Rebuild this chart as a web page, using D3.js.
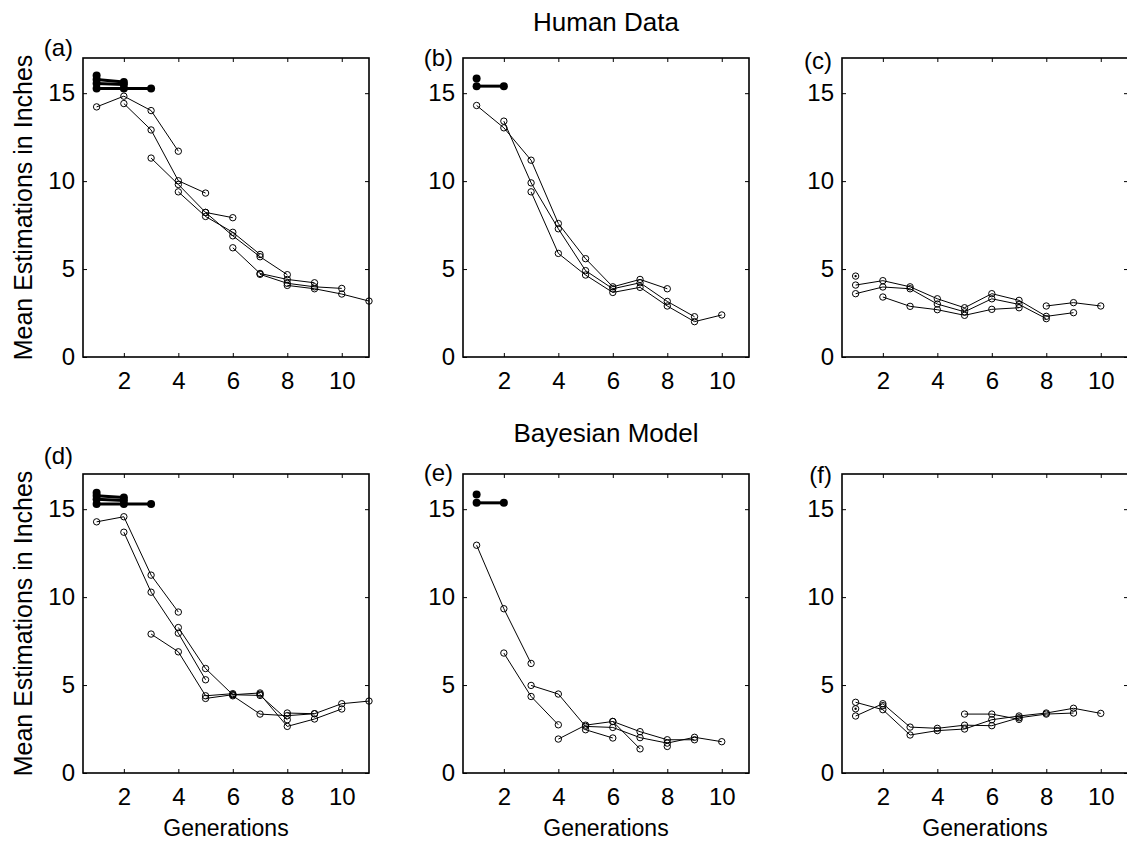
<!DOCTYPE html>
<html>
<head>
<meta charset="utf-8">
<script src="https://cdn.jsdelivr.net/npm/d3@7"></script>
<style>
  body { margin: 0; background: #fff; }
  svg { font-family: "Liberation Sans", Arial, Helvetica, sans-serif; }
  .line { fill: none; stroke: #000; stroke-width: 1; }
  .seedline { fill: none; stroke: #000; stroke-width: 3; }
</style>
</head>
<body>
<div id="graph"></div>
<script>
// chains: each one starts at generation `start` and goes on with `values`
var chainsA = [
  { start: 1, values: [14.22, 14.83, 14.01, 11.70] },
  { start: 2, values: [14.41, 12.91, 10.02, 9.32] },
  { start: 3, values: [11.31, 9.81, 8.22, 7.92] },
  { start: 4, values: [9.39, 7.99, 7.09, 5.83] },
  { start: 5, values: [8.22, 6.89, 5.70, 4.68] },
  { start: 6, values: [6.21, 4.75, 4.41, 4.22] },
  { start: 7, values: [4.70, 4.19, 3.99, 3.90] },
  { start: 8, values: [4.07, 3.88, 3.58, 3.18] }
];
var chainsB = [
  { start: 1, values: [14.30, 13.03, 11.19, 7.59, 5.59, 3.99, 4.41, 3.88] },
  { start: 2, values: [13.41, 9.90, 7.29, 4.91, 3.88, 4.22, 3.16, 2.29] },
  { start: 3, values: [9.39, 5.89, 4.66, 3.67, 3.96, 2.90, 2.01, 2.39] }
];
var chainsC = [
  { start: 1, values: [4.09, 4.34, 3.99, 3.31, 2.80, 3.60, 3.22, 2.31, 2.52] },
  { start: 1, values: [3.60, 3.98, 3.88, 3.01, 2.57, 3.31, 2.99, 2.18] },
  { start: 2, values: [3.41, 2.88, 2.69, 2.37, 2.71, 2.80] },
  { start: 8, values: [2.90, 3.09, 2.90] }
];
var chainsD = [
  { start: 1, values: [14.28, 14.57, 11.25, 9.15] },
  { start: 2, values: [13.69, 10.28, 7.95, 5.30] },
  { start: 3, values: [7.90, 6.89, 4.39, 4.51] },
  { start: 4, values: [8.27, 5.94, 4.45, 4.55] },
  { start: 5, values: [4.24, 4.45, 4.41, 3.03] },
  { start: 6, values: [4.39, 3.35, 3.26, 3.37] },
  { start: 7, values: [4.48, 2.65, 3.07, 3.64] },
  { start: 8, values: [3.41, 3.37, 3.94, 4.09] }
];
var chainsE = [
  { start: 1, values: [12.95, 9.34, 6.23] },
  { start: 2, values: [6.82, 4.35, 2.74] },
  { start: 3, values: [4.98, 4.49, 2.65, 2.59, 2.01, 1.70, 2.03, 1.78] },
  { start: 4, values: [1.93, 2.72, 2.93, 2.35, 1.89, 1.89] },
  { start: 5, values: [2.46, 1.99] },
  { start: 6, values: [2.93, 1.37] },
  { start: 8, values: [1.51] }
];
var chainsF = [
  { start: 1, values: [4.02, 3.60, 2.16, 2.41, 2.50, 3.03, 3.24, 3.41, 3.68, 3.39] },
  { start: 1, values: [3.24, 3.94, 2.61, 2.54, 2.72, 2.69, 3.14, 3.35, 3.41] },
  { start: 2, values: [3.83] },
  { start: 5, values: [3.35, 3.35, 3.05] }
];

// seeds (filled markers, thick lines)
var seedsA = [
  { start: 1, values: [16.00] },
  { start: 1, values: [15.78, 15.64] },
  { start: 1, values: [15.55, 15.49] },
  { start: 1, values: [15.27, 15.27, 15.27] }
];
var seedsB = [
  { start: 1, values: [15.83] },
  { start: 1, values: [15.40, 15.40] }
];
var seedsD = [
  { start: 1, values: [15.94] },
  { start: 1, values: [15.77, 15.66] },
  { start: 1, values: [15.57, 15.49] },
  { start: 1, values: [15.30, 15.30, 15.30] }
];
var seedsE = [
  { start: 1, values: [15.83] },
  { start: 1, values: [15.36, 15.36] }
];
// start points drawn with a dot inside
var dotsC = [{ gen: 1, value: 4.60 }];
var dotsF = [{ gen: 1, value: 3.65 }];

var panelLabels = ['(a)', '(b)', '(c)', '(d)', '(e)', '(f)'];
var rowTitles = ['Human Data', 'Bayesian Model'];
var xTicks = [2, 4, 6, 8, 10];
var yTicks = [0, 5, 10, 15];

var panels = [
  { chains: chainsA, seeds: seedsA, dots: [] },
  { chains: chainsB, seeds: seedsB, dots: [] },
  { chains: chainsC, seeds: [], dots: dotsC },
  { chains: chainsD, seeds: seedsD, dots: [] },
  { chains: chainsE, seeds: seedsE, dots: [] },
  { chains: chainsF, seeds: [], dots: dotsF }
];

var W = 1127, H = 841;
var lefts = [83, 463, 842], tops = [58, 474];
var pw = 286, ph = 299;
var labelY = [[56, 66, 69], [464, 481, 483]];

var svg = d3.select('#graph').append('svg')
  .attr('width', W).attr('height', H);

// row titles
rowTitles.forEach(function(t, r) {
  svg.append('text')
    .attr('x', 606).attr('y', r === 0 ? 31 : 442)
    .attr('text-anchor', 'middle')
    .style('font-size', '26px')
    .text(t);
});

function toPoints(c) {
  return c.values.map(function(v, i) { return { gen: c.start + i, value: v }; });
}

panels.forEach(function(p, k) {
  var r = Math.floor(k / 3), col = k % 3;
  var g = svg.append('g')
    .attr('transform', 'translate(' + lefts[col] + ',' + tops[r] + ')');

  var x = d3.scaleLinear().domain([0.5, 11]).range([0, pw]);
  var y = d3.scaleLinear().domain([0, 17]).range([ph, 0]);

  // inside ticks on all four sides, like a matlab box
  g.append('g').attr('transform', 'translate(0,' + ph + ')')
    .call(d3.axisBottom(x).tickValues(xTicks).tickSizeInner(-4).tickSizeOuter(0).tickPadding(15))
    .call(function(a) {
      a.select('.domain').remove();
      a.selectAll('text').style('font-size', '24px').attr('fill', '#000');
    });
  g.append('g')
    .call(d3.axisTop(x).tickValues(xTicks).tickSizeInner(-4).tickSizeOuter(0).tickFormat(''))
    .call(function(a) { a.select('.domain').remove(); });
  g.append('g')
    .call(d3.axisLeft(y).tickValues(yTicks).tickSizeInner(-4).tickSizeOuter(0).tickPadding(8))
    .call(function(a) {
      a.select('.domain').remove();
      a.selectAll('text').style('font-size', '24px').attr('fill', '#000');
    });
  g.append('g').attr('transform', 'translate(' + pw + ',0)')
    .call(d3.axisRight(y).tickValues(yTicks).tickSizeInner(-4).tickSizeOuter(0).tickFormat(''))
    .call(function(a) { a.select('.domain').remove(); });

  g.append('rect')
    .attr('width', pw).attr('height', ph)
    .attr('fill', 'none').attr('stroke', '#000').attr('stroke-width', 1.6);

  var line = d3.line()
    .x(function(d) { return x(d.gen); })
    .y(function(d) { return y(d.value); });

  // chains
  p.chains.forEach(function(c) {
    var pts = toPoints(c);
    g.append('path').datum(pts).attr('class', 'line').attr('d', line);
    g.selectAll(null).data(pts).enter().append('circle')
      .attr('cx', function(d) { return x(d.gen); })
      .attr('cy', function(d) { return y(d.value); })
      .attr('r', 3.2)
      .attr('fill', 'none').attr('stroke', '#000').attr('stroke-width', 1);
  });

  // seeds
  p.seeds.forEach(function(c) {
    var pts = toPoints(c);
    g.append('path').datum(pts).attr('class', 'seedline').attr('d', line);
    g.selectAll(null).data(pts).enter().append('circle')
      .attr('cx', function(d) { return x(d.gen); })
      .attr('cy', function(d) { return y(d.value); })
      .attr('r', 4)
      .attr('fill', '#000');
  });

  p.dots.forEach(function(d) {
    g.append('circle').attr('cx', x(d.gen)).attr('cy', y(d.value))
      .attr('r', 3.2).attr('fill', 'none').attr('stroke', '#000');
    g.append('circle').attr('cx', x(d.gen)).attr('cy', y(d.value))
      .attr('r', 1.2).attr('fill', '#000');
  });

  // panel label
  svg.append('text')
    .attr('x', lefts[col] - 10).attr('y', labelY[r][col])
    .attr('text-anchor', 'end')
    .style('font-size', '24px')
    .text(panelLabels[k]);

  if (r === 1) {
    svg.append('text')
      .attr('x', lefts[col] + pw / 2).attr('y', 836)
      .attr('text-anchor', 'middle')
      .style('font-size', '23px')
      .text('Generations');
  }
});

// y axis labels
[0, 1].forEach(function(r) {
  svg.append('text')
    .attr('transform', 'translate(32,' + (tops[r] + ph / 2) + ') rotate(-90)')
    .attr('text-anchor', 'middle')
    .style('font-size', '25px')
    .text('Mean Estimations in Inches');
});
</script>
</body>
</html>
